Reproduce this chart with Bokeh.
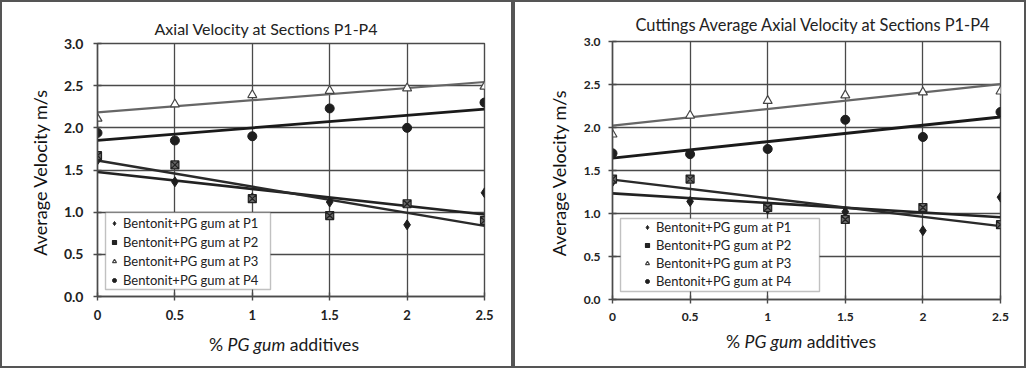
import numpy as np
from bokeh.plotting import figure
from bokeh.layouts import row, column
from bokeh.models import (FixedTicker, CustomJSTickFormatter, Legend, LegendItem,
                          BoxAnnotation, Div)
from bokeh.embed import file_html
from bokeh.resources import INLINE

# ---------------- data ----------------
x_vals = [0, 0.5, 1, 1.5, 2, 2.5]
series_names = ["Bentonit+PG gum at P1", "Bentonit+PG gum at P2",
                "Bentonit+PG gum at P3", "Bentonit+PG gum at P4"]

# Left chart: Axial Velocity at Sections P1-P4
left_p1 = [1.62, 1.36, 1.17, 1.12, 0.85, 1.23]
left_p2 = [1.67, 1.56, 1.16, 0.96, 1.10, 0.90]
left_p3 = [2.11, 2.28, 2.39, 2.44, 2.47, 2.49]
left_p4 = [1.94, 1.85, 1.90, 2.23, 2.00, 2.30]

# Right chart: Cuttings Average Axial Velocity at Sections P1-P4
right_p1 = [1.37, 1.14, 1.05, 1.02, 0.80, 1.19]
right_p2 = [1.40, 1.40, 1.07, 0.93, 1.07, 0.87]
right_p3 = [1.92, 2.14, 2.31, 2.375, 2.41, 2.42]
right_p4 = [1.70, 1.69, 1.75, 2.09, 1.89, 2.18]

y_ticks = [0, 0.5, 1, 1.5, 2, 2.5, 3]
x_ticks = [0, 0.5, 1, 1.5, 2, 2.5]

FONT = "Lato"
GRID = "#4a4a4a"
INK = "#1e1e1e"
BORDER = "2px solid #555"
W = 513
FIG_H = 334
DIV_H = 34


def make_panel(title, series, cfg):
    p = figure(width=W, height=FIG_H, x_range=(0, 2.5), y_range=(0, 3.0),
               output_backend="svg", toolbar_location=None,
               min_border_left=cfg["ml"], min_border_right=cfg["mr"],
               min_border_top=cfg["mt"], min_border_bottom=cfg["mb"],
               background_fill_color="white", border_fill_color="white")
    p.styles = {"border-top": BORDER, "border-left": BORDER, "border-right": BORDER,
                "box-sizing": "border-box"}
    p.title.text = title
    p.title.align = "left"
    p.title.offset = cfg["toff"]
    p.title.standoff = cfg["tso"]
    p.title.text_font = FONT
    p.title.text_font_size = cfg["tfs"]
    p.title.text_font_style = "normal"
    p.title.text_color = "#222"

    p.outline_line_color = GRID
    p.outline_line_width = 1.4

    p.xaxis.ticker = FixedTicker(ticks=x_ticks)
    p.yaxis.ticker = FixedTicker(ticks=y_ticks)
    p.xaxis.formatter = CustomJSTickFormatter(code="return tick.toString();")
    p.yaxis.formatter = CustomJSTickFormatter(code="return tick.toFixed(1);")
    for ax in (p.xaxis[0], p.yaxis[0]):
        ax.axis_line_color = GRID
        ax.axis_line_width = 1.4
        ax.major_tick_line_color = GRID
        ax.major_tick_line_width = 1.4
        ax.major_tick_in = 4
        ax.major_tick_out = 4
        ax.minor_tick_line_color = None
        ax.major_label_text_font = FONT
        ax.major_label_text_font_style = "bold"
        ax.major_label_text_color = "#222"
    p.yaxis.major_label_text_font_size = cfg["yfs"]
    p.xaxis.major_label_text_font_size = cfg["xfs"]
    p.yaxis.major_label_standoff = cfg["yso"]
    p.xaxis.major_label_standoff = 9
    p.yaxis.axis_label = "Average Velocity  m/s"
    p.yaxis.axis_label_text_font = FONT
    p.yaxis.axis_label_text_font_size = "18px"
    p.yaxis.axis_label_text_font_style = "normal"
    p.yaxis.axis_label_text_color = "#111"
    p.yaxis.axis_label_standoff = cfg["ylab_so"]

    p.xgrid.grid_line_color = GRID
    p.ygrid.grid_line_color = GRID
    p.xgrid.grid_line_width = 1.3
    p.ygrid.grid_line_width = 1.3
    p.xgrid.ticker = FixedTicker(ticks=x_ticks)
    p.ygrid.ticker = FixedTicker(ticks=y_ticks)

    # legend frame (white box) drawn beneath the legend entries
    lb = cfg["legbox"]
    p.add_layout(BoxAnnotation(left=lb[0], right=lb[1], bottom=lb[2], top=lb[3],
                               left_units="screen", right_units="screen",
                               bottom_units="screen", top_units="screen",
                               fill_color="white", fill_alpha=1.0,
                               line_color="#333", line_width=1.4,
                               level="overlay"))

    xs = np.array(x_vals, dtype=float)
    line_styles = [("#222", 2.6), ("#2a2a2a", 2.4), ("#666", 2.2), ("#1a1a1a", 2.8)]
    for (ys, (lc, lw)) in zip(series, line_styles):
        k, b = np.polyfit(xs, np.array(ys), 1)
        p.line([xs[0], xs[-1]], [b + k * xs[0], b + k * xs[-1]],
               line_color=lc, line_width=lw)

    r1 = p.scatter(x_vals, series[0], marker="diamond", size=10,
                   fill_color=INK, line_color=INK)
    r2 = p.scatter(x_vals, series[1], marker="square_x", size=8,
                   fill_color="#666", line_color="#222", line_width=1.2)
    r3 = p.scatter(x_vals, series[2], marker="triangle", size=9,
                   fill_color="white", line_color="#444", line_width=1.2)
    r4 = p.scatter(x_vals, series[3], marker="circle", size=9,
                   fill_color=INK, line_color=INK)
    items = [LegendItem(label=n, renderers=[r])
             for n, r in zip(series_names, [r1, r2, r3, r4])]
    leg = Legend(items=items, location=cfg["legloc"])
    leg.label_text_font = FONT
    leg.label_text_font_size = "13px"
    leg.label_text_color = "#222"
    leg.border_line_color = None
    leg.background_fill_alpha = 0.0
    leg.glyph_width = 10
    leg.glyph_height = 12
    leg.label_standoff = 4
    leg.spacing = 0
    leg.padding = 0
    leg.margin = 0
    leg.label_height = cfg["legrow"]
    p.add_layout(leg, "center")

    # x axis title with italic "PG gum"
    d = Div(text=('<div style="margin-left:%dpx;margin-top:%dpx;font-family:Lato;'
                  'font-size:17.6px;color:#1a1a1a;white-space:nowrap;line-height:1.2">'
                  '%% <i>PG gum</i> additives</div>') % (cfg["xl_left"], cfg["xl_top"]),
            width=W, height=DIV_H, margin=0,
            styles={"border-left": BORDER, "border-right": BORDER,
                    "border-bottom": BORDER, "box-sizing": "border-box",
                    "background-color": "white"})
    return column(p, d, spacing=0, margin=0)


left_cfg = dict(ml=95, mr=31, mt=41, mb=40, toff=57, tso=12, tfs="16px", yfs="14px",
                xfs="13px", yso=10, ylab_so=10, legbox=(8, 173, 7, 84),
                legloc=(12, 7), legrow=19, xl_left=207, xl_top=0)
right_cfg = dict(ml=97, mr=28, mt=39, mb=37, toff=23, tso=16, tfs="16.4px", yfs="12px",
                 xfs="12px", yso=8, ylab_so=11, legbox=(8, 207, 8, 81),
                 legloc=(30, 9), legrow=18, xl_left=211, xl_top=-3)

p_left = make_panel("Axial Velocity at Sections P1-P4",
                    [left_p1, left_p2, left_p3, left_p4], left_cfg)
p_right = make_panel("Cuttings Average Axial Velocity at Sections P1-P4",
                     [right_p1, right_p2, right_p3, right_p4], right_cfg)

layout = row(p_left, p_right, spacing=0, margin=0)
open("out.html", "w").write(file_html(layout, INLINE))
